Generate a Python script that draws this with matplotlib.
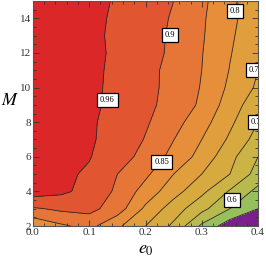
import matplotlib.pyplot as plt
import numpy as np
from matplotlib.colors import ListedColormap, BoundaryNorm
from matplotlib.ticker import MultipleLocator

plt.rcParams['mathtext.fontset'] = 'stix'

e0 = [0.0, 0.05, 0.1, 0.15, 0.2, 0.25, 0.3, 0.35, 0.4]
M = [2, 3, 4, 5, 6, 7, 8, 9, 10, 11, 12, 13, 14, 15]

# one row per M value, one column per e0 value
fidelity = [
    [0.810, 0.842, 0.865, 0.810, 0.750, 0.690, 0.590, 0.520, 0.470],  # M=2
    [0.893, 0.910, 0.915, 0.875, 0.790, 0.725, 0.665, 0.600, 0.550],  # M=3
    [0.990, 0.972, 0.940, 0.890, 0.830, 0.770, 0.712, 0.645, 0.585],  # M=4
    [0.985, 0.972, 0.952, 0.900, 0.860, 0.800, 0.750, 0.700, 0.630],  # M=5
    [0.990, 0.978, 0.963, 0.925, 0.882, 0.835, 0.782, 0.715, 0.650],  # M=6
    [0.990, 0.980, 0.968, 0.935, 0.897, 0.851, 0.800, 0.742, 0.680],  # M=7
    [0.990, 0.980, 0.968, 0.940, 0.906, 0.868, 0.820, 0.760, 0.700],  # M=8
    [0.990, 0.981, 0.970, 0.947, 0.913, 0.880, 0.842, 0.775, 0.720],  # M=9
    [0.990, 0.982, 0.971, 0.948, 0.915, 0.884, 0.847, 0.790, 0.742],  # M=10
    [0.990, 0.983, 0.971, 0.950, 0.915, 0.885, 0.850, 0.798, 0.750],  # M=11
    [0.990, 0.983, 0.972, 0.952, 0.920, 0.890, 0.852, 0.803, 0.760],  # M=12
    [0.990, 0.984, 0.972, 0.950, 0.920, 0.892, 0.855, 0.807, 0.768],  # M=13
    [0.990, 0.985, 0.973, 0.952, 0.922, 0.895, 0.857, 0.810, 0.775],  # M=14
    [0.990, 0.985, 0.975, 0.955, 0.925, 0.900, 0.862, 0.810, 0.775],  # M=15
]

levels = [0.55, 0.6, 0.65, 0.7, 0.75, 0.8, 0.85, 0.9, 0.96]
band_colors = ['#7b1f8e', '#97bf5e', '#b7ba4e', '#cbb445', '#d7aa40',
               '#e09e3c', '#e68e3a', '#e57638', '#e15530', '#db2727']

# label positions (e0, M) and the text shown
label_text = ['0.96', '0.9', '0.8', '0.75', '0.7', '0.85', '0.6']
label_e0 = [0.132, 0.244, 0.359, 0.397, 0.397, 0.229, 0.354]
label_M = [9.28, 13.04, 14.43, 11.02, 8.01, 5.7, 3.5]

serif = ['Liberation Serif', 'DejaVu Serif']

fig = plt.figure(figsize=(2.66, 2.61), dpi=100)
ax = fig.add_axes([0.124, 0.134, 0.846, 0.862])

X, Y = np.meshgrid(e0, M)
Z = np.array(fidelity)
bounds = [0.0] + levels + [1.1]
cmap = ListedColormap(band_colors)
norm = BoundaryNorm(bounds, cmap.N)
ax.contourf(X, Y, Z, levels=bounds, cmap=cmap, norm=norm)
ax.contour(X, Y, Z, levels=levels, colors='#2a2a2a', linewidths=0.6)

for s, x, y in zip(label_text, label_e0, label_M):
    ax.text(x, y, s, ha='center', va='center', fontsize=6, family=serif,
            clip_on=True, zorder=5,
            bbox=dict(boxstyle='square,pad=0.35', fc='white', ec='black', lw=0.9))

ax.set_xlim(0, 0.4)
ax.set_ylim(2, 15)
ax.xaxis.set_major_locator(MultipleLocator(0.1))
ax.xaxis.set_minor_locator(MultipleLocator(0.02))
ax.yaxis.set_major_locator(MultipleLocator(2))
ax.yaxis.set_minor_locator(MultipleLocator(0.5))
ax.set_xticks([0.0, 0.1, 0.2, 0.3, 0.4])
ax.set_xticklabels(['0.0', '0.1', '0.2', '0.3', '0.4'])
ax.tick_params(which='both', direction='in', top=True, right=True,
               color='#333333', width=0.6, labelsize=8, pad=1.5)
ax.tick_params(which='major', length=4)
ax.tick_params(which='minor', length=2)
for lbl in ax.get_xticklabels() + ax.get_yticklabels():
    lbl.set_family(serif)
    lbl.set_color('#333333')
for sp in ax.spines.values():
    sp.set_color('#555555')
    sp.set_linewidth(0.8)

ax.set_xlabel('$e_0$', fontsize=13, labelpad=2)
ax.set_ylabel('$M$', fontsize=13, rotation=0, va='center', ha='center')
ax.yaxis.set_label_coords(-0.1, 0.56)

fig.savefig('out.png', dpi=100)
